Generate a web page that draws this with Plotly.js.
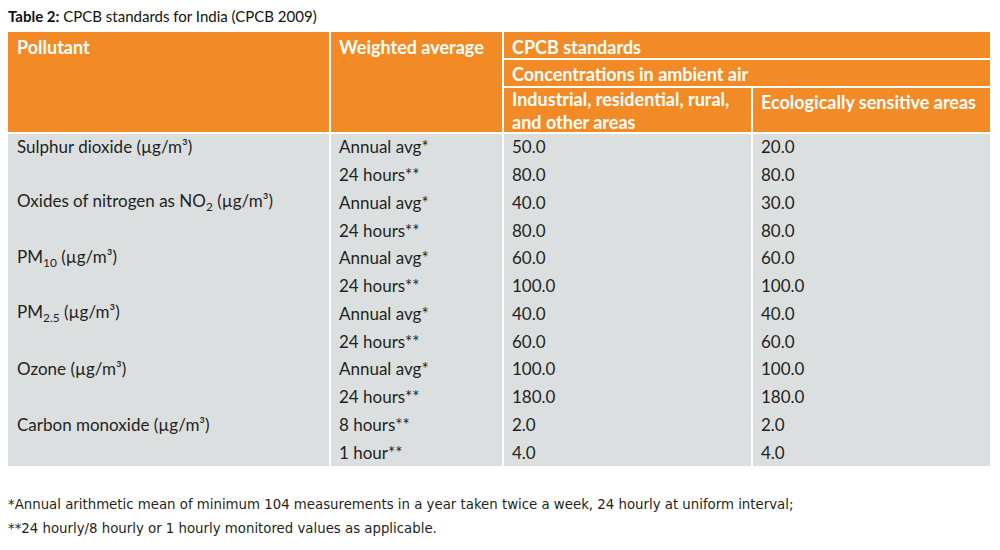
<!DOCTYPE html>
<html>
<head>
<meta charset="utf-8">
<script src="https://cdn.plot.ly/plotly-3.0.1.min.js"></script>
<style>html,body{margin:0;padding:0;background:#fff;}#chart{width:1000px;height:550px;}</style>
</head>
<body>
<div id="chart"></div>
<script>
// ---- data ----
const titleBold = "Table 2:";
const titleRest = " CPCB standards for India (CPCB 2009)";
const headerTop = ["Pollutant", "Weighted average", "CPCB standards"];
const headerMid = "Concentrations in ambient air";
const headerSub = ["Industrial, residential, rural,<br>and other areas", "Ecologically sensitive areas"];
const pollutants = ["Sulphur dioxide (µg/m³)", "", "Oxides of nitrogen as NO<sub>2</sub> (µg/m³)", "",
  "PM<sub>10</sub> (µg/m³)", "", "PM<sub>2.5</sub> (µg/m³)", "", "Ozone (µg/m³)", "",
  "Carbon monoxide (µg/m³)", ""];
const averaging = ["Annual avg*", "24 hours**", "Annual avg*", "24 hours**", "Annual avg*", "24 hours**",
  "Annual avg*", "24 hours**", "Annual avg*", "24 hours**", "8 hours**", "1 hour**"];
const industrial = [50.0, 80.0, 40.0, 80.0, 60.0, 100.0, 40.0, 60.0, 100.0, 180.0, 2.0, 4.0];
const sensitive = [20.0, 80.0, 30.0, 80.0, 60.0, 100.0, 40.0, 60.0, 100.0, 180.0, 2.0, 4.0];
const footnotes = ["*Annual arithmetic mean of minimum 104 measurements in a year taken twice a week, 24 hourly at uniform interval;",
  "**24 hourly/8 hourly or 1 hourly monitored values as applicable."];

// ---- geometry / style ----
const colEdges = [8, 330, 503, 752, 990];
const headTop = 32, headLines = [59, 87], headBottom = 133, bodyBottom = 466;
const nRows = pollutants.length;
const rowH = (bodyBottom - headBottom) / nRows;
const padX = 7;
const orange = "#F28B26", grey = "#DCDFE0", textCol = "#231F20";
const bodyFont = {family: "Lato, 'Open Sans', sans-serif", size: 17, color: textCol};
const headFont = {family: "Lato, 'Open Sans', sans-serif", size: 18, color: "#ffffff", weight: 700};

const shapes = [];
const ann = [];
function rect(x0, x1, y0, y1, fill) {
  shapes.push({type: "rect", xref: "x", yref: "y", x0, x1, y0, y1, fillcolor: fill, line: {width: 0}, layer: "below"});
}
function line(x0, x1, y0, y1, w) {
  shapes.push({type: "line", xref: "x", yref: "y", x0, x1, y0, y1, line: {color: "#ffffff", width: w || 2}});
}
function txt(x, y, text, font, yanchor) {
  ann.push({xref: "x", yref: "y", x, y, text, showarrow: false, xanchor: "left", yanchor: yanchor || "middle", align: "left", font});
}

rect(colEdges[0], colEdges[4], headTop, headBottom, orange);
rect(colEdges[0], colEdges[4], headBottom, bodyBottom, grey);
// vertical dividers
line(colEdges[1], colEdges[1], headTop, bodyBottom, 2);
line(colEdges[2], colEdges[2], headTop, bodyBottom, 2);
line(colEdges[3], colEdges[3], headLines[1], bodyBottom, 2);
// header horizontal lines
line(colEdges[2], colEdges[4], headLines[0], headLines[0], 2);
line(colEdges[2], colEdges[4], headLines[1], headLines[1], 2);
line(colEdges[0], colEdges[4], headBottom, headBottom, 2);

// header text
const row1Y = (headTop + headLines[0]) / 2 + 1;
txt(colEdges[0] + padX, row1Y, headerTop[0], headFont);
txt(colEdges[1] + padX, row1Y, headerTop[1], headFont);
txt(colEdges[2] + padX, row1Y, headerTop[2], headFont);
txt(colEdges[2] + padX, (headLines[0] + headLines[1]) / 2 + 1, headerMid, headFont);
txt(colEdges[2] + padX, (headLines[1] + headBottom) / 2, headerSub[0], headFont);
txt(colEdges[3] + padX, headLines[1] + 15, headerSub[1], headFont);

// body text
for (let i = 0; i < nRows; i++) {
  const yc = headBottom + rowH * (i + 0.5);
  if (pollutants[i]) txt(colEdges[0] + padX, yc, pollutants[i], bodyFont);
  txt(colEdges[1] + padX, yc, averaging[i], bodyFont);
  txt(colEdges[2] + padX, yc, industrial[i].toFixed(1), bodyFont);
  txt(colEdges[3] + padX, yc, sensitive[i].toFixed(1), bodyFont);
}

// title
txt(colEdges[0] - 2, 16, "<b>" + titleBold + "</b>" + titleRest, {family: "Lato, 'Open Sans', sans-serif", size: 15, color: "#111"});
// footnotes
const footFont = {family: "'Liberation Sans Narrow', 'DejaVu Sans Condensed', sans-serif", size: 14.8, color: textCol};
txt(colEdges[0] - 2, 503, footnotes[0], footFont);
txt(colEdges[0] - 2, 527, footnotes[1], footFont);

const layout = {
  width: 1000, height: 550,
  margin: {l: 0, r: 0, t: 0, b: 0},
  paper_bgcolor: "#ffffff", plot_bgcolor: "#ffffff",
  xaxis: {range: [0, 1000], visible: false, fixedrange: true},
  yaxis: {range: [550, 0], visible: false, fixedrange: true},
  shapes, annotations: ann, showlegend: false
};
Plotly.newPlot("chart", [], layout, {displayModeBar: false, staticPlot: true});
</script>
</body>
</html>
